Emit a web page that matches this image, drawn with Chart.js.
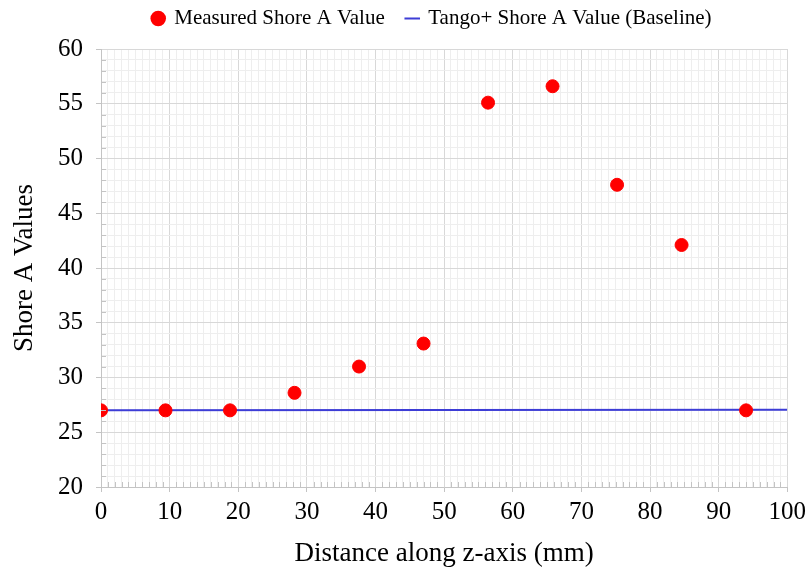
<!DOCTYPE html>
<html>
<head>
<meta charset="utf-8">
<script src="https://cdn.jsdelivr.net/npm/chart.js@4/dist/chart.umd.min.js"></script>
<style>
  html, body { margin: 0; padding: 0; background: #fff; }
  #wrap { width: 811px; height: 571px; }
</style>
</head>
<body>
<div id="wrap"><canvas id="shoreChart" width="811" height="571"></canvas></div>
<script>
// --- DATA ---
const distances = [0, 9.4, 18.8, 28.2, 37.6, 47, 56.4, 65.8, 75.2, 84.6, 94];
const measuredShore = [27, 27, 27, 28.6, 31, 33.1, 55.1, 56.6, 47.6, 42.1, 27];
const baselineX = [0, 100];
const baselineShore = [27, 27.05];
const xTicks = [0, 10, 20, 30, 40, 50, 60, 70, 80, 90, 100];
const yTicks = [20, 25, 30, 35, 40, 45, 50, 55, 60];

const FONT = "'Liberation Serif', 'Times New Roman', serif";
const BLUE = '#3d3dd6';
const RED = '#ff0000';
const MAJOR_GRID = '#d8d8d8';
const MINOR_GRID = '#eeeeee';
const TICK_MARK = '#c4c4c4';

const measuredPoints = distances.map((d, i) => ({ x: d, y: measuredShore[i] }));
const baselinePoints = baselineX.map((d, i) => ({ x: d, y: baselineShore[i] }));

function everyUnit(min, max) {
    const t = [];
    for (let v = min; v <= max; v++) t.push({ value: v });
    return t;
}

// small inward minor tick marks along the left and bottom axes
const minorTicks = {
    id: 'minorTicks',
    afterDatasetsDraw(chart) {
        const { ctx, chartArea: a, scales: { x, y } } = chart;
        ctx.save();
        ctx.strokeStyle = TICK_MARK;
        ctx.lineWidth = 1;
        ctx.beginPath();
        x.ticks.forEach(t => {
            if (xTicks.includes(t.value)) return;
            const px = Math.round(x.getPixelForValue(t.value)) + 0.5;
            ctx.moveTo(px, a.bottom);
            ctx.lineTo(px, a.bottom - 5);
        });
        y.ticks.forEach(t => {
            if (yTicks.includes(t.value)) return;
            const py = Math.round(y.getPixelForValue(t.value)) + 0.5;
            ctx.moveTo(a.left, py);
            ctx.lineTo(a.left + 5, py);
        });
        ctx.stroke();
        ctx.restore();
    }
};

// legend sits centred over the plot area and a bit higher than its box
const legendShift = {
    id: 'legendShift',
    afterLayout(chart) {
        const lg = chart.legend;
        if (!lg) return;
        const a = chart.chartArea;
        const dx = (a.left + a.right) / 2 - (lg.left + lg.right) / 2 - 12;
        lg.left += dx;
        lg.right += dx;
        lg.top -= 10;
        lg.bottom -= 10;
    }
};

new Chart(document.getElementById('shoreChart'), {
    type: 'scatter',
    data: {
        datasets: [
            {
                label: 'Measured Shore A Value',
                data: measuredPoints,
                backgroundColor: RED,
                borderColor: RED,
                pointRadius: 6.5,
                pointHoverRadius: 6.5,
                order: 0
            },
            {
                label: 'Tango+ Shore A Value (Baseline)',
                data: baselinePoints,
                showLine: true,
                borderColor: BLUE,
                backgroundColor: BLUE,
                borderWidth: 2,
                pointRadius: 0,
                pointStyle: 'line',
                order: 1
            }
        ]
    },
    plugins: [minorTicks, legendShift],
    options: {
        responsive: false,
        animation: false,
        layout: { padding: { left: 0, right: 23, top: -4, bottom: 0 } },
        plugins: {
            tooltip: { enabled: false },
            legend: {
                position: 'top',
                labels: {
                    color: '#000',
                    font: { family: FONT, size: 21 },
                    usePointStyle: true,
                    boxWidth: 11,
                    boxHeight: 11,
                    padding: 22,
                    generateLabels(chart) {
                        const items = Chart.defaults.plugins.legend.labels.generateLabels(chart);
                        items.forEach((it, i) => {
                            it.pointStyle = i === 0 ? 'circle' : 'line';
                            it.lineWidth = i === 0 ? 0 : 2;
                            it.strokeStyle = i === 0 ? RED : BLUE;
                            it.fillStyle = i === 0 ? RED : BLUE;
                        });
                        return items;
                    }
                }
            }
        },
        scales: {
            x: {
                type: 'linear',
                min: 0,
                max: 100,
                afterFit(scale) { scale.height = 84; },
                afterBuildTicks(scale) { scale.ticks = everyUnit(0, 100); },
                ticks: {
                    autoSkip: false,
                    maxRotation: 0,
                    color: '#000',
                    font: { family: FONT, size: 25 },
                    padding: 5,
                    callback: v => xTicks.includes(v) ? String(v) : ''
                },
                grid: {
                    drawTicks: true,
                    tickLength: 5,
                    tickColor: ctx => (ctx.tick && xTicks.includes(ctx.tick.value)) ? TICK_MARK : 'rgba(0,0,0,0)',
                    color: ctx => (ctx.tick && xTicks.includes(ctx.tick.value)) ? MAJOR_GRID : MINOR_GRID,
                    lineWidth: 1
                },
                border: { color: '#c4c4c4' },
                title: {
                    display: true,
                    text: 'Distance along z-axis (mm)',
                    color: '#000',
                    font: { family: FONT, size: 27 },
                    padding: { top: 0, bottom: 1 }
                }
            },
            y: {
                type: 'linear',
                min: 20,
                max: 60,
                afterFit(scale) { scale.width = 101; },
                afterBuildTicks(scale) { scale.ticks = everyUnit(20, 60); },
                ticks: {
                    autoSkip: false,
                    color: '#000',
                    font: { family: FONT, size: 25 },
                    padding: 13,
                    callback: v => yTicks.includes(v) ? String(v) : ''
                },
                grid: {
                    drawTicks: true,
                    tickLength: 5,
                    tickColor: ctx => (ctx.tick && yTicks.includes(ctx.tick.value)) ? TICK_MARK : 'rgba(0,0,0,0)',
                    color: ctx => (ctx.tick && yTicks.includes(ctx.tick.value)) ? MAJOR_GRID : MINOR_GRID,
                    lineWidth: 1
                },
                border: { color: '#c4c4c4' },
                title: {
                    display: true,
                    text: 'Shore A Values',
                    color: '#000',
                    font: { family: FONT, size: 27 },
                    padding: { top: 9, bottom: 0 }
                }
            }
        }
    }
});
</script>
</body>
</html>
